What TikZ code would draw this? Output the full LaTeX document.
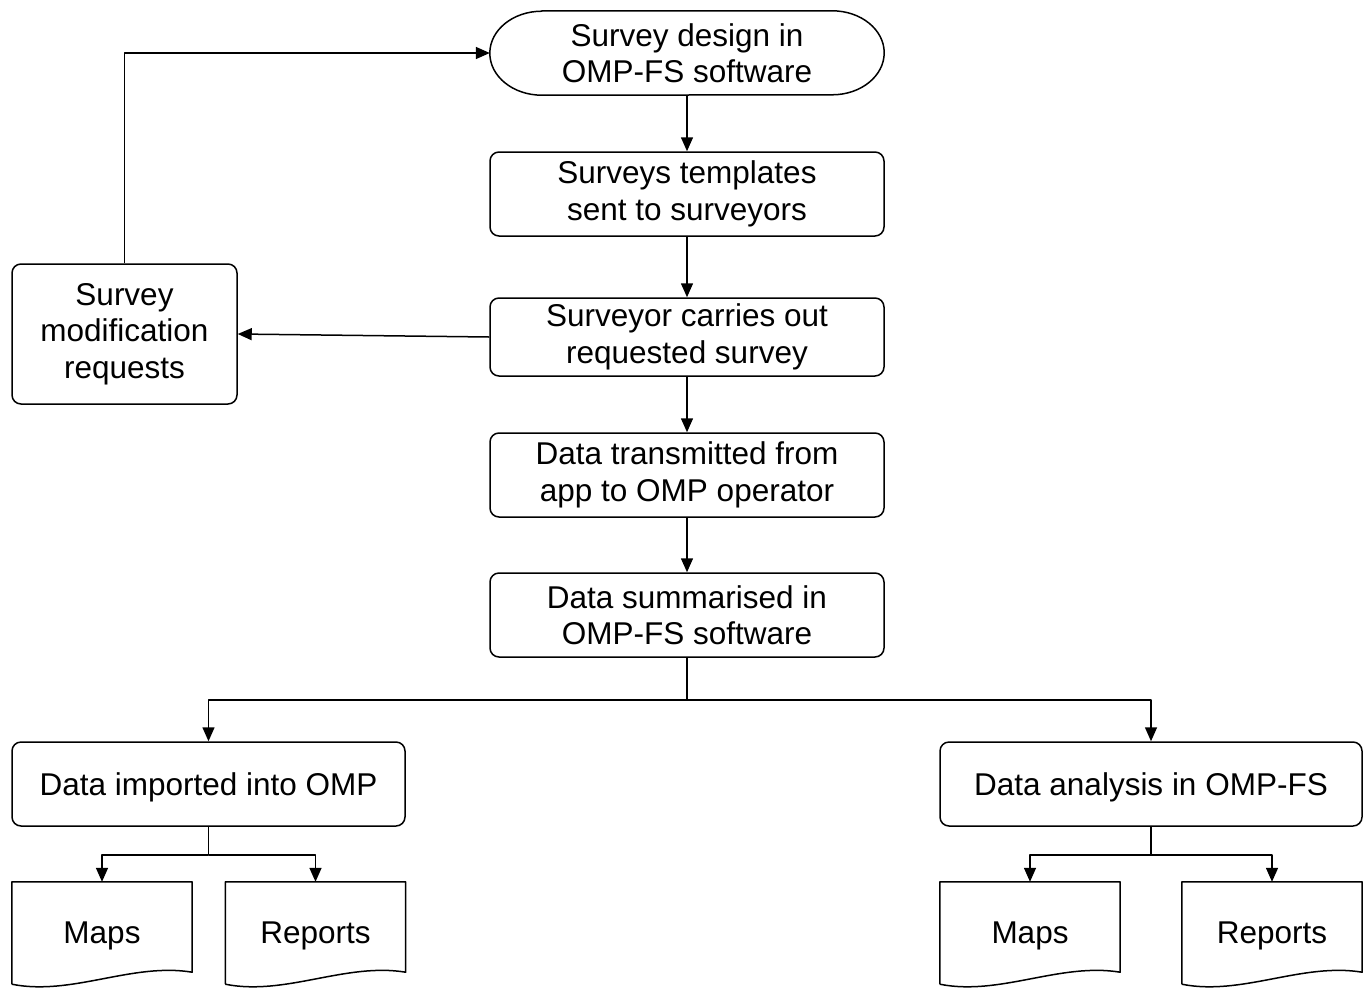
\documentclass[tikz,border=0pt]{standalone}
\usepackage{fontspec}
\setmainfont{Liberation Sans}
\usetikzlibrary{arrows.meta}
\begin{document}
\begin{tikzpicture}[x=1pt,y=1pt,
  every node/.style={font=\fontsize{31.5}{36.5}\selectfont, align=center, inner sep=0pt},
  line/.style={line width=1.5pt, line join=round},
  box/.style={draw, line, rounded corners=9pt, minimum width=394pt, minimum height=84pt},
  doctext/.style={minimum width=180pt, minimum height=102pt},
  arr/.style={line, -{Triangle[length=14pt,width=12pt]}}]
\useasboundingbox (0,0) rectangle (1364,-988);

% terminal
\node[minimum width=394pt, minimum height=84pt] (t) at (687,-53) {Survey design in\\OMP-FS software};
\draw[line] ([xshift=52pt]t.north west) -- ([xshift=-52pt]t.north east)
  arc[start angle=90, end angle=-90, x radius=52pt, y radius=42pt]
  -- ([xshift=52pt]t.south west)
  arc[start angle=270, end angle=90, x radius=52pt, y radius=42pt] -- cycle;

\node[box] (b2) at (687,-194) {Surveys templates\\sent to surveyors};
\node[box, minimum height=78pt] (b3) at (687,-337) {Surveyor carries out\\requested survey};
\node[box] (b4) at (687,-475) {Data transmitted from\\app to OMP operator};
\node[box] (b5) at (687,-615) {Data summarised in\\OMP-FS software};
\node[box, minimum width=225pt, minimum height=140pt] (lb) at (124.5,-334) {Survey\\modification\\requests};
\node[box, minimum width=393pt, text depth=0pt] (di) at (208.5,-784) {Data imported into OMP};
\node[box, minimum width=422pt, text depth=0pt] (da) at (1151,-784) {Data analysis in OMP-FS};

\foreach \n/\cx/\t in {m1/102/Maps, r1/315.5/Reports, m2/1030/Maps, r2/1272/Reports}{
  \node[doctext, text depth=0pt] (\n) at (\cx,-933) {\t};
  \draw[line] (\n.south west) -- (\n.north west) -- (\n.north east) -- ([yshift=12pt]\n.south east)
    .. controls ([shift={(-60pt,22pt)}]\n.south east) and ([shift={(60pt,-12pt)}]\n.south west) .. (\n.south west);
}

\draw[arr] (t.south) -- (b2.north);
\draw[arr] (b2.south) -- (b3.north);
\draw[arr] (b3.south) -- (b4.north);
\draw[arr] (b4.south) -- (b5.north);
\draw[arr] (b3.west) -- (lb.east);
\draw[arr] (lb.north) |- (t.west);

\coordinate (s1) at (687,-700);
\draw[arr] (b5.south) -- (s1) -| (di.north);
\draw[arr] (s1) -| (da.north);

\coordinate (s2) at (208.5,-855);
\draw[arr] (di.south) -- (s2) -| (m1.north);
\draw[arr] (s2) -| (r1.north);

\coordinate (s3) at (1151,-855);
\draw[arr] (da.south) -- (s3) -| (m2.north);
\draw[arr] (s3) -| (r2.north);
\end{tikzpicture}
\end{document}
